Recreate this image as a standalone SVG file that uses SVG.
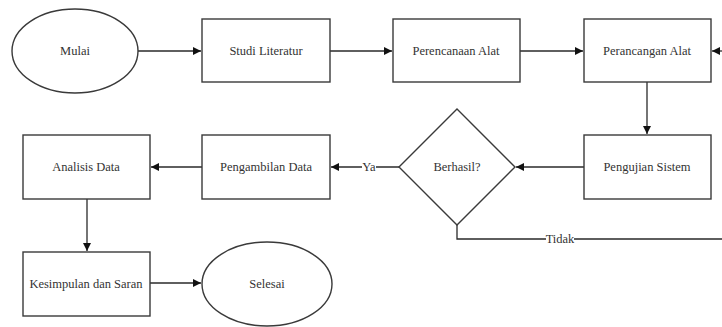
<svg xmlns="http://www.w3.org/2000/svg" width="722" height="327" viewBox="0 0 722 327">
<style>
.n{fill:#fff;stroke:#3a3a3a;stroke-width:1.4}
.t{fill:#333;text-anchor:middle;dominant-baseline:central}
.c{fill:none;stroke:#2a2a2a;stroke-width:1.3}
</style>
<defs>
<marker id="a" viewBox="0 0 10 10" refX="10" refY="5" markerWidth="8" markerHeight="8" markerUnits="userSpaceOnUse" orient="auto">
<path d="M0,0 L10,5 L0,10 Z" fill="#111"/>
</marker>
</defs>
<rect width="722" height="327" fill="#fff"/>
<g id="connectors">
<line class="c" x1="138" y1="51" x2="201" y2="51" marker-end="url(#a)"/>
<line class="c" x1="330" y1="51" x2="392" y2="51" marker-end="url(#a)"/>
<line class="c" x1="520" y1="51" x2="583" y2="51" marker-end="url(#a)"/>
<line class="c" x1="722" y1="51" x2="712" y2="51" marker-end="url(#a)"/>
<line class="c" x1="647" y1="82" x2="647" y2="134" marker-end="url(#a)"/>
<line class="c" x1="584" y1="167" x2="516" y2="167" marker-end="url(#a)"/>
<line class="c" x1="399" y1="167" x2="331" y2="167" marker-end="url(#a)"/>
<line class="c" x1="202" y1="167" x2="151" y2="167" marker-end="url(#a)"/>
<line class="c" x1="87" y1="199" x2="87" y2="251" marker-end="url(#a)"/>
<line class="c" x1="150" y1="283" x2="201" y2="283" marker-end="url(#a)"/>
<polyline class="c" points="457,225 457,239 722,239"/>
<rect x="362" y="160" width="14" height="14" fill="#fff"/>
<text class="t" x="369" y="167" font-family="Liberation Serif" font-size="12.5">Ya</text>
<rect x="546" y="232" width="28" height="14" fill="#fff"/>
<text class="t" x="560" y="239" font-family="Liberation Serif" font-size="12.5">Tidak</text>
</g>
<g id="mulai"><ellipse class="n" cx="75" cy="51" rx="63" ry="42"/><text class="t" x="75" y="51" font-family="Liberation Serif" font-size="12.5">Mulai</text></g>
<g id="studi"><rect class="n" x="202" y="19" width="128" height="63"/><text class="t" x="266" y="51" font-family="Liberation Serif" font-size="12.5">Studi Literatur</text></g>
<g id="perencanaan"><rect class="n" x="393" y="19" width="127" height="63"/><text class="t" x="456" y="51" font-family="Liberation Serif" font-size="12.5">Perencanaan Alat</text></g>
<g id="perancangan"><rect class="n" x="584" y="19" width="127" height="63"/><text class="t" x="647" y="51" font-family="Liberation Serif" font-size="12.5">Perancangan Alat</text></g>
<g id="pengujian"><rect class="n" x="584" y="135" width="127" height="64"/><text class="t" x="647" y="167" font-family="Liberation Serif" font-size="12.5">Pengujian Sistem</text></g>
<g id="berhasil"><polygon class="n" points="457,109 515,167 457,225 399,167"/><text class="t" x="457" y="167" font-family="Liberation Serif" font-size="12.5">Berhasil?</text></g>
<g id="pengambilan"><rect class="n" x="202" y="135" width="128" height="64"/><text class="t" x="266" y="167" font-family="Liberation Serif" font-size="12.5">Pengambilan Data</text></g>
<g id="analisis"><rect class="n" x="23" y="135" width="127" height="64"/><text class="t" x="86" y="167" font-family="Liberation Serif" font-size="12.5">Analisis Data</text></g>
<g id="kesimpulan"><rect class="n" x="23" y="252" width="127" height="64"/><text class="t" x="86" y="284" font-family="Liberation Serif" font-size="12.5">Kesimpulan dan Saran</text></g>
<g id="selesai"><ellipse class="n" cx="267" cy="284" rx="65" ry="42"/><text class="t" x="267" y="284" font-family="Liberation Serif" font-size="12.5">Selesai</text></g>
</svg>
